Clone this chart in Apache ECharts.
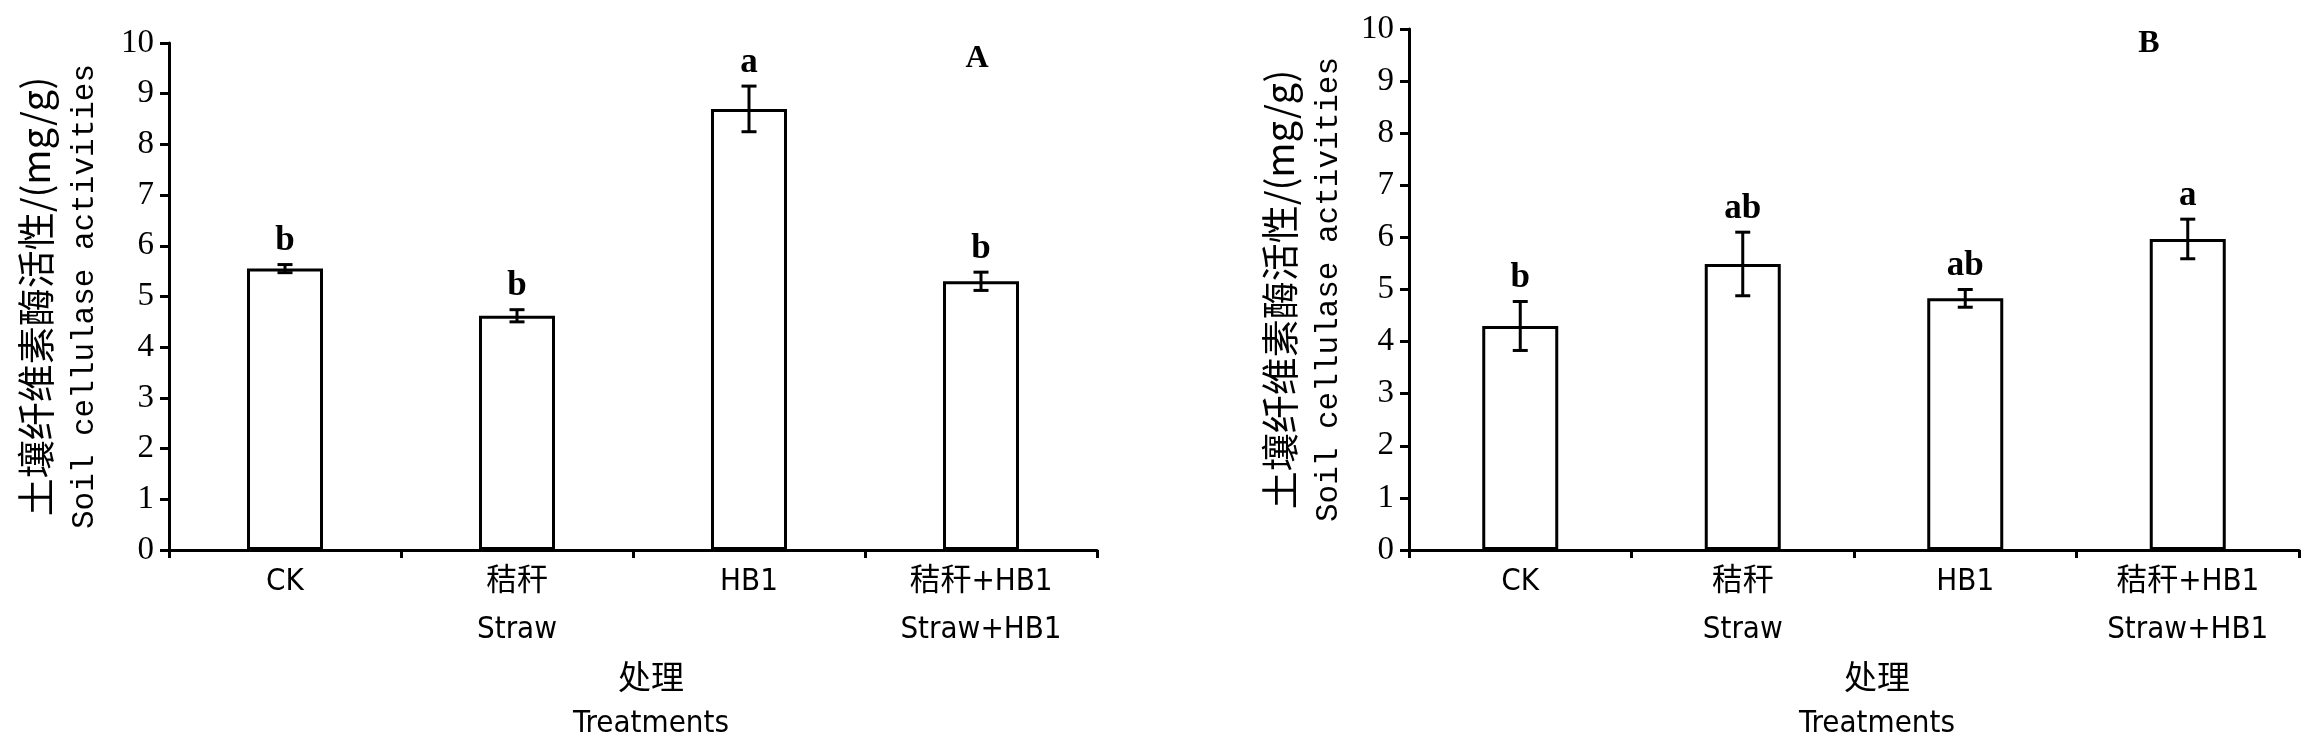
<!DOCTYPE html>
<html>
<head>
<meta charset="utf-8">
<script src="https://cdn.jsdelivr.net/npm/echarts@6/dist/echarts.min.js"></script>
<style>
html,body{margin:0;padding:0;background:#fff;}
#chart{width:2321px;height:755px;}
</style>
</head>
<body>
<div id="chart"></div>
<script>
// ---- data ----
const categories = ['CK', '秸秆\nStraw', 'HB1', '秸秆+HB1\nStraw+HB1'];
const valuesA = [5.55, 4.62, 8.70, 5.30];
const errorsA = [0.08, 0.12, 0.45, 0.18];
const lettersA = ['b', 'b', 'a', 'b'];
const valuesB = [4.30, 5.49, 4.83, 5.97];
const errorsB = [0.47, 0.61, 0.17, 0.38];
const lettersB = ['b', 'ab', 'ab', 'a'];
const yMin = 0, yMax = 10, yStep = 1;
const yNameCN = '土壤纤维素酶活性/(mg/g)';
const yNameEN = 'Soil cellulase activities';
const xNameCN = '处理';
const xNameEN = 'Treatments';
const panelLabels = ['A', 'B'];

// ---- styles ----
const SERIF = '"Liberation Serif","Times New Roman",serif';
const NARROW = '"Liberation Sans Narrow","DejaVu Sans Condensed","Noto Sans CJK SC",sans-serif';
const CJK = '"Noto Sans CJK SC",sans-serif';
const MONO = '"Liberation Mono","DejaVu Sans Mono",monospace';

const chart = echarts.init(document.getElementById('chart'));

function xAxisCfg(gridIndex, nameShift) {
  return {
    type: 'category', gridIndex, data: categories,
    axisLine: {lineStyle: {color: '#000', width: 3}},
    axisTick: {show: true, length: 8, lineStyle: {color: '#000', width: 3}},
    axisLabel: {
      color: '#000', fontFamily: NARROW, fontSize: 31, lineHeight: 48, margin: 8, interval: 0
    },
    name: '{c|' + xNameCN + '}\n{e|' + xNameEN + '}',
    nameLocation: 'middle', nameGap: 102,
    nameTextStyle: {
      color: '#000', padding: [0, 0, 0, nameShift],
      rich: {
        c: {fontFamily: CJK, fontSize: 33, lineHeight: 48, color: '#000'},
        e: {fontFamily: NARROW, fontSize: 31, lineHeight: 48, color: '#000'}
      }
    }
  };
}
function yAxisCfg(gridIndex, gap) {
  return {
    type: 'value', gridIndex, min: yMin, max: yMax, interval: yStep,
    splitLine: {show: false},
    axisLine: {show: true, lineStyle: {color: '#000', width: 3}},
    axisTick: {show: true, length: 9, lineStyle: {color: '#000', width: 3}},
    axisLabel: {color: '#000', fontFamily: SERIF, fontSize: 33, margin: 15},
    name: '{c|' + yNameCN + '}\n{e|' + yNameEN + '}',
    nameLocation: 'middle', nameRotate: 90, nameGap: gap,
    nameTextStyle: {
      color: '#000',
      rich: {
        c: {fontFamily: CJK, fontSize: 38, lineHeight: 49, color: '#000'},
        e: {fontFamily: MONO, fontSize: 31, lineHeight: 49, color: '#000'}
      }
    }
  };
}
function barSeries(idx, vals) {
  return {
    type: 'bar', xAxisIndex: idx, yAxisIndex: idx, data: vals, barWidth: 76,
    itemStyle: {color: '#fff', borderColor: '#000', borderWidth: 3},
    silent: true, animation: false
  };
}
function errSeries(idx, vals, errs, letters) {
  return {
    type: 'custom', xAxisIndex: idx, yAxisIndex: idx, animation: false, silent: true, z: 5,
    data: vals.map((v, i) => [i, v, errs[i]]),
    renderItem: function (params, api) {
      const i = api.value(0), v = api.value(1), e = api.value(2);
      const top = api.coord([i, v + e]);
      const bot = api.coord([i, v - e]);
      const w = 7.5;
      const st = {stroke: '#000', lineWidth: 3};
      return {
        type: 'group',
        children: [
          {type: 'line', shape: {x1: top[0], y1: top[1], x2: bot[0], y2: bot[1]}, style: st},
          {type: 'line', shape: {x1: top[0] - w, y1: top[1], x2: top[0] + w, y2: top[1]}, style: st},
          {type: 'line', shape: {x1: bot[0] - w, y1: bot[1], x2: bot[0] + w, y2: bot[1]}, style: st},
          {type: 'text', x: top[0], y: top[1] - 6,
            style: {text: letters[params.dataIndex], align: 'center', verticalAlign: 'bottom',
              fontFamily: SERIF, fontSize: 35, fontWeight: 'bold', fill: '#000'}}
        ]
      };
    }
  };
}

chart.setOption({
  backgroundColor: '#fff',
  animation: false,
  grid: [
    {left: 169, top: 43, width: 928, height: 507},
    {left: 1409, top: 29, width: 890, height: 521}
  ],
  xAxis: [xAxisCfg(0, 36), xAxisCfg(1, 46)],
  yAxis: [yAxisCfg(0, 60), yAxisCfg(1, 56)],
  series: [
    barSeries(0, valuesA), errSeries(0, valuesA, errorsA, lettersA),
    barSeries(1, valuesB), errSeries(1, valuesB, errorsB, lettersB)
  ],
  graphic: [
    {type: 'text', x: 977, y: 59, style: {text: panelLabels[0], align: 'center', verticalAlign: 'middle',
      fontFamily: SERIF, fontSize: 32, fontWeight: 'bold', fill: '#000'}},
    {type: 'text', x: 2149, y: 44, style: {text: panelLabels[1], align: 'center', verticalAlign: 'middle',
      fontFamily: SERIF, fontSize: 32, fontWeight: 'bold', fill: '#000'}}
  ]
});
</script>
</body>
</html>
